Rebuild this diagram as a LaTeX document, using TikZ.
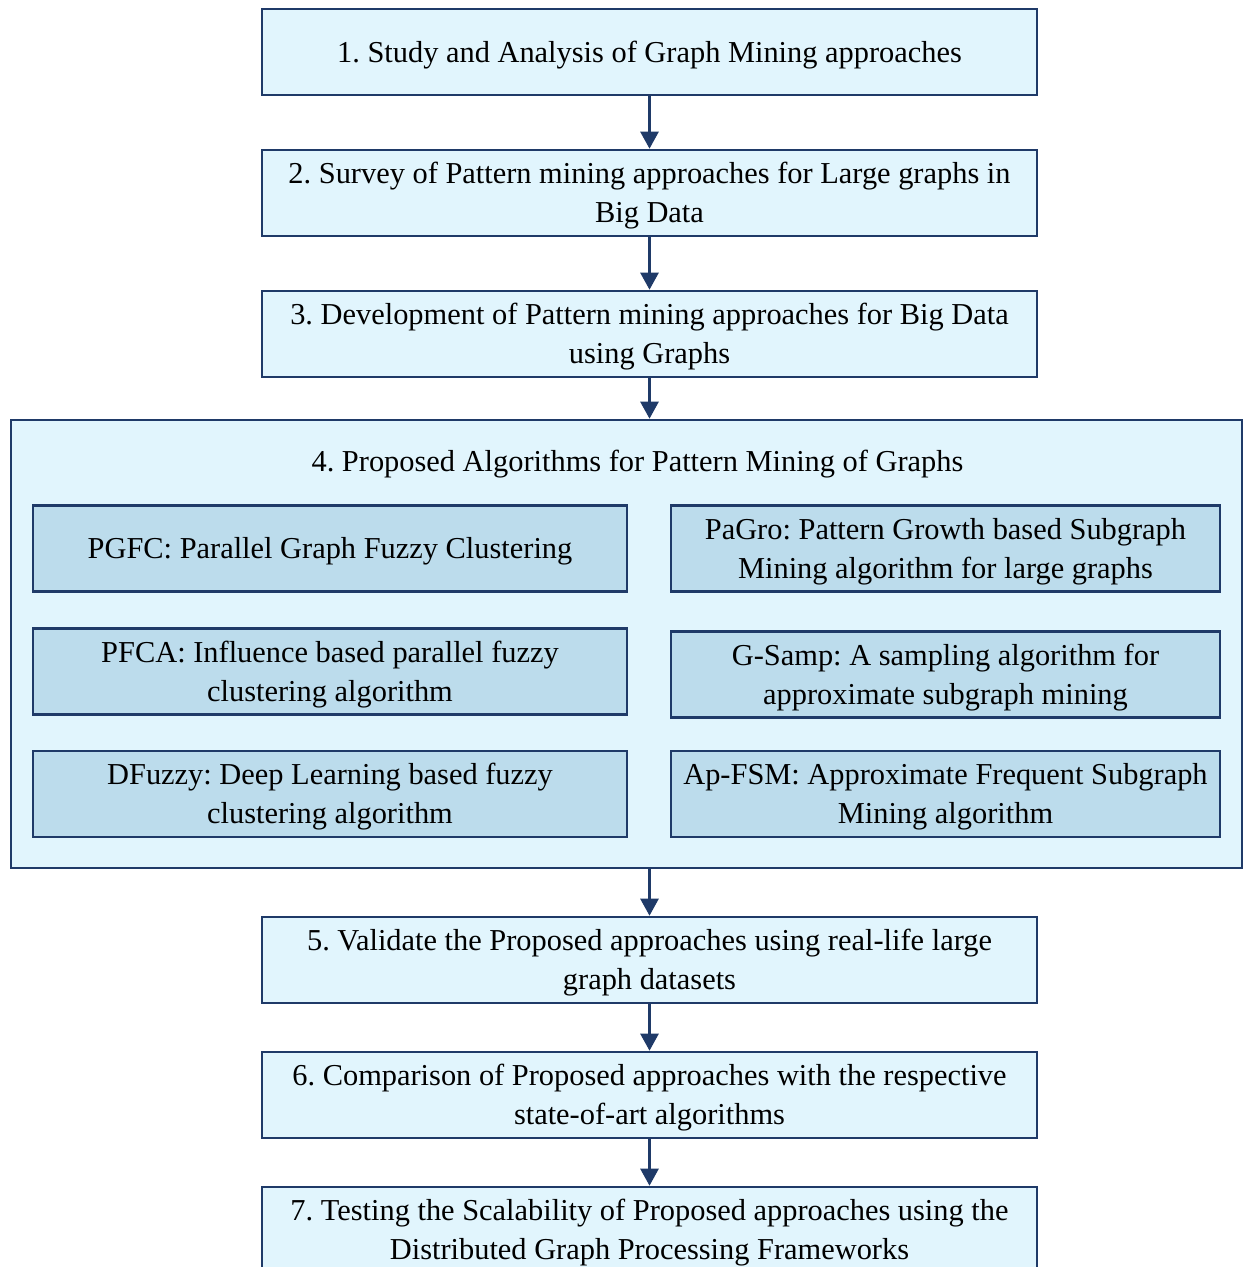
\documentclass[tikz,border=0pt]{standalone}
\usepackage{fontspec}
\setmainfont{Liberation Serif}
\usetikzlibrary{arrows.meta}
\frenchspacing
\definecolor{navy}{HTML}{1F3A68}
\definecolor{paleblue}{HTML}{E1F5FD}
\definecolor{midblue}{HTML}{BCDCEC}
% struts fixing the height of the first line and depth of the last line
\newcommand\hi{\rule{0pt}{28pt}}
\newcommand\lo{\rule[-7.8pt]{0pt}{7.8pt}}
\tikzset{
  every node/.style={font=\fontsize{30.4}{39}\selectfont, text=black},
  stepbox/.style={draw=navy, line width=2.6pt, fill=paleblue, minimum width=775pt,
    minimum height=86pt, inner sep=0pt, align=center},
  outerbox/.style={draw=navy, line width=2.6pt, fill=paleblue, minimum width=1231pt,
    minimum height=448pt, inner sep=0pt},
  algbox/.style={draw=navy, line width=2.6pt, fill=midblue, minimum height=86pt,
    inner sep=0pt, align=center},
  flow/.style={draw=navy, line width=2.6pt, -{Triangle[width=18pt,length=17pt]}},
}
\begin{document}
\begin{tikzpicture}[x=1pt, y=-1pt]
\clip (0,0) rectangle (1243,1267);
\fill[white] (0,0) rectangle (1243,1267);

% main sequence of steps
\node[stepbox] (s1) at (649.5,52) {\hi 1. Study and Analysis of Graph Mining approaches\lo};
\node[stepbox] (s2) at (649.5,193) {\hi 2. Survey of Pattern mining approaches for Large graphs in\\Big Data\lo};
\node[stepbox] (s3) at (649.5,334) {\hi 3. Development of Pattern mining approaches for Big Data\\using Graphs\lo};

% group of proposed algorithms
\node[outerbox] (s4) at (626.5,644) {};
\node (s4title) at (637.5,461) {\hi 4. Proposed Algorithms for Pattern Mining of Graphs\lo};
\node[algbox, minimum width=594pt] (a1) at (330,548.5) {\hi PGFC: Parallel Graph Fuzzy Clustering\lo};
\node[algbox, minimum width=549pt] (a2) at (945.5,548.5) {\hi PaGro: Pattern Growth based Subgraph\\Mining algorithm for large graphs\lo};
\node[algbox, minimum width=594pt] (a3) at (330,671.5) {\hi PFCA: Influence based parallel fuzzy\\clustering algorithm\lo};
\node[algbox, minimum width=549pt] (a4) at (945.5,674.5) {\hi G-Samp: A sampling algorithm for\\approximate subgraph mining\lo};
\node[algbox, minimum width=594pt] (a5) at (330,794) {\hi DFuzzy: Deep Learning based fuzzy\\clustering algorithm\lo};
\node[algbox, minimum width=549pt] (a6) at (945.5,794) {\hi Ap-FSM: Approximate Frequent Subgraph\\Mining algorithm\lo};

\node[stepbox] (s5) at (649.5,960) {\hi 5. Validate the Proposed approaches using real-life large\\graph datasets\lo};
\node[stepbox] (s6) at (649.5,1095) {\hi 6. Comparison of Proposed approaches with the respective\\state-of-art algorithms\lo};
\node[stepbox] (s7) at (649.5,1230) {\hi 7. Testing the Scalability of Proposed approaches using the\\Distributed Graph Processing Frameworks\lo};

% connectors
\draw[flow] (s1.south) -- (s2.north);
\draw[flow] (s2.south) -- (s3.north);
\draw[flow] (s3.south) -- (s3.south |- s4.north);
\draw[flow] (s3.south |- s4.south) -- (s5.north);
\draw[flow] (s5.south) -- (s6.north);
\draw[flow] (s6.south) -- (s7.north);
\end{tikzpicture}
\end{document}
